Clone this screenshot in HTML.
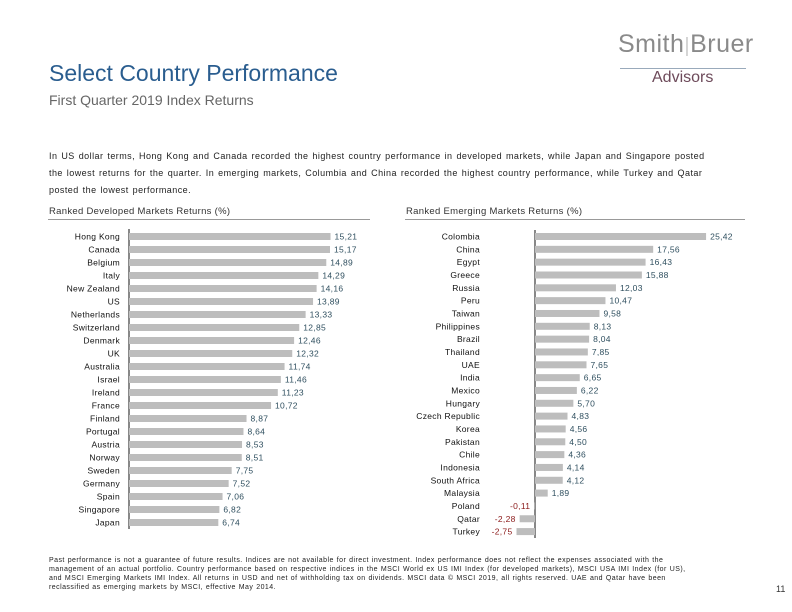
<!DOCTYPE html>
<html><head><meta charset="utf-8"><style>
body{margin:0;width:792px;height:612px;background:#fff;font-family:"Liberation Sans",sans-serif;position:relative;overflow:hidden}
.a{position:absolute;white-space:nowrap}
</style></head><body>
<div class="a" style="left:49px;top:60px;font-size:23px;color:#2a5d8f">Select Country Performance</div>
<div class="a" style="left:49px;top:92px;font-size:14px;color:#666">First Quarter 2019 Index Returns</div>
<div class="a" style="left:618px;top:30px;width:130px;height:56px">
<div class="a" style="left:0;top:0;font-size:25px;color:#8a8a8a;letter-spacing:0.5px">Smith<span style="color:#ccc;font-size:20px">|</span>Bruer</div>
<div class="a" style="left:2px;top:38px;width:126px;height:1px;background:#9ab"></div>
<div class="a" style="left:34px;top:39px;font-size:16px;color:#6d4a5a">Advisors</div>
</div>
<div class="a" style="left:49px;top:148px;font-size:9px;color:#222;line-height:17px;white-space:normal;width:665px;letter-spacing:0.45px;word-spacing:1px">In US dollar terms, Hong Kong and Canada recorded the highest country performance in developed markets, while Japan and Singapore posted the lowest returns for the quarter. In emerging markets, Columbia and China recorded the highest country performance, while Turkey and Qatar posted the lowest performance.</div>
<div class="a" style="left:49px;top:206px;font-size:9.5px;color:#333;letter-spacing:0.3px">Ranked Developed Markets Returns (%)</div>
<div class="a" style="left:48px;top:219px;width:322px;height:1px;background:#999"></div>
<div class="a" style="left:406px;top:206px;font-size:9.5px;color:#333;letter-spacing:0.3px">Ranked Emerging Markets Returns (%)</div>
<div class="a" style="left:405px;top:219px;width:340px;height:1px;background:#999"></div>
<svg class="a" style="left:0;top:0" width="792" height="612" id="svg"></svg>
<div class="a" style="left:49px;top:556px;font-size:7px;color:#222;line-height:9px;white-space:normal;width:650px;letter-spacing:0.45px;word-spacing:0.5px">Past performance is not a guarantee of future results. Indices are not available for direct investment. Index performance does not reflect the expenses associated with the management of an actual portfolio. Country performance based on respective indices in the MSCI World ex US IMI Index (for developed markets), MSCI USA IMI Index (for US), and MSCI Emerging Markets IMI Index. All returns in USD and net of withholding tax on dividends. MSCI data © MSCI 2019, all rights reserved. UAE and Qatar have been reclassified as emerging markets by MSCI, effective May 2014.</div>
<div class="a" style="left:776px;top:584px;font-size:9px;color:#333">11</div>
<script>
const devCountries=["Hong Kong","Canada","Belgium","Italy","New Zealand","US","Netherlands","Switzerland","Denmark","UK","Australia","Israel","Ireland","France","Finland","Portugal","Austria","Norway","Sweden","Germany","Spain","Singapore","Japan"];
const devValues=[15.21,15.17,14.89,14.29,14.16,13.89,13.33,12.85,12.46,12.32,11.74,11.46,11.23,10.72,8.87,8.64,8.53,8.51,7.75,7.52,7.06,6.82,6.74];
const emCountries=["Colombia","China","Egypt","Greece","Russia","Peru","Taiwan","Philippines","Brazil","Thailand","UAE","India","Mexico","Hungary","Czech Republic","Korea","Pakistan","Chile","Indonesia","South Africa","Malaysia","Poland","Qatar","Turkey"];
const emValues=[25.42,17.56,16.43,15.88,12.03,10.47,9.58,8.13,8.04,7.85,7.65,6.65,6.22,5.70,4.83,4.56,4.50,4.36,4.14,4.12,1.89,-0.11,-2.28,-2.75];
const NS="http://www.w3.org/2000/svg";
const svg=document.getElementById('svg');
function el(t,a){const e=document.createElementNS(NS,t);for(const k in a)e.setAttribute(k,a[k]);svg.appendChild(e);return e;}
function fmt(v){return v.toFixed(2).replace('.',',');}
function chart(cats,vals,x0,scale,y0,step,labelX,axisTop,axisBot,prefix){
  const ax=el('line',{x1:x0,x2:x0,y1:axisTop,y2:axisBot,stroke:'#888','stroke-width':2});
  
  
  cats.forEach((c,i)=>{
    const y=y0+i*step, v=vals[i];
    const xs=v>=0?x0:x0+v*scale, w=Math.max(Math.abs(v)*scale,0.8);
    const r=el('rect',{x:xs,y:y-3.5,width:w,height:7,fill:'#bdbdbd'});
    
    
    const t=el('text',{x:labelX,y:y+3,'text-anchor':'end','font-size':8.5,fill:'#111','font-family':'Liberation Sans, sans-serif','letter-spacing':0.3});
    t.textContent=c;
    
    
    const vt=el('text',{x:v>=0?x0+v*scale+4:xs-4,y:y+3,'text-anchor':v>=0?'start':'end','font-size':8.5,fill:v>=0?'#2f4f5f':'#8b1a1a','font-family':'Liberation Sans, sans-serif','letter-spacing':0.3});
    vt.textContent=fmt(v);
    
    
  });
}
chart(devCountries,devValues,129,13.25,236.5,13.0,120,229,529,'developed');
chart(emCountries,emValues,535,6.73,236.5,12.83,480,230,538,'emerging');
</script>
</body></html>
